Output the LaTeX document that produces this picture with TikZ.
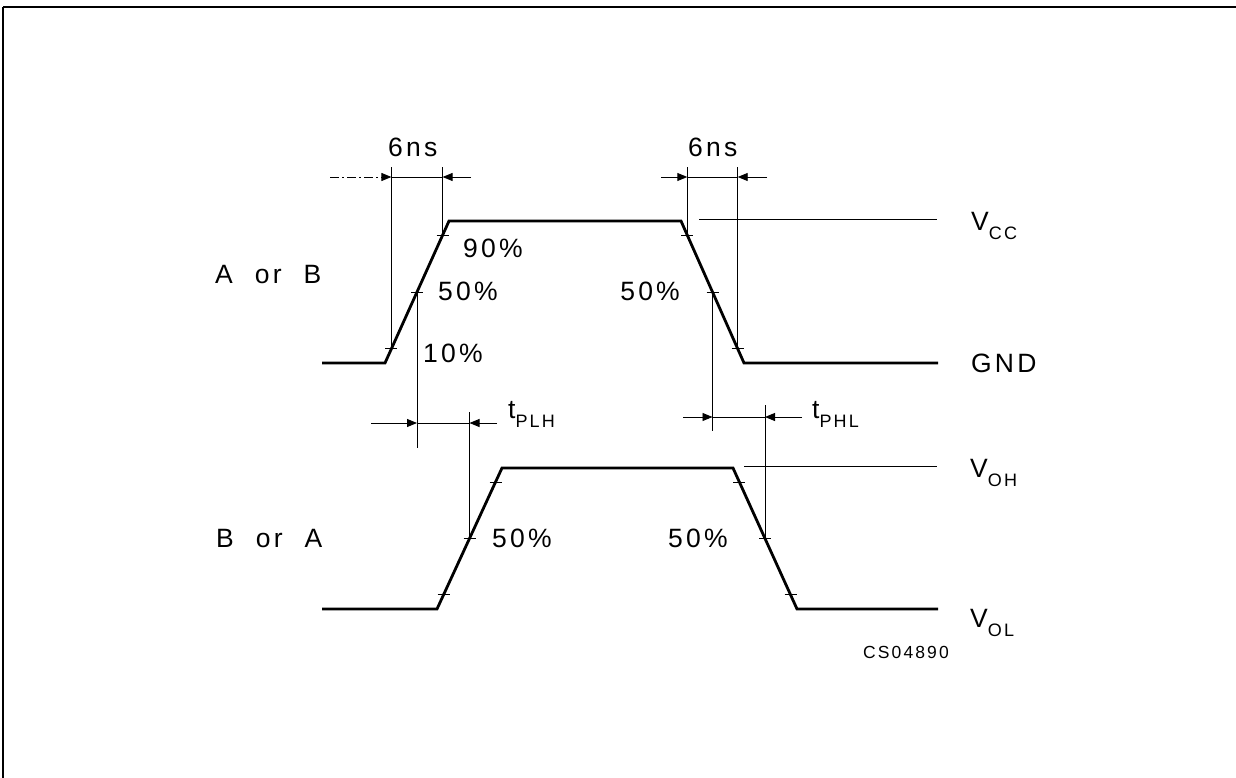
\documentclass[tikz,border=0pt]{standalone}
\usepackage{fontspec}
\setmainfont{Liberation Sans}[LetterSpace=12]
\usetikzlibrary{calc,arrows.meta}
\newcommand{\sbs}[1]{\raisebox{-9pt}{\fontsize{18pt}{18pt}\selectfont #1}}
\tikzset{
  wave/.style={line width=2.8pt, line join=miter},
  thinline/.style={line width=0.9pt},
  dimarrow/.style={line width=0.9pt, -{Triangle[length=10pt,width=8pt]}},
  lbl/.style={anchor=base west, inner sep=0pt, font=\fontsize{26.5pt}{30pt}\selectfont},
  lble/.style={anchor=base east, inner sep=0pt, font=\fontsize{26.5pt}{30pt}\selectfont},
  smalllbl/.style={anchor=base west, inner sep=0pt, font=\fontsize{17.5pt}{20pt}\selectfont},
}
\begin{document}
\begin{tikzpicture}[x=1pt,y=-1pt]
\useasboundingbox (0,0) rectangle (1236,778);
% frame
\coordinate (ftr) at (1236,7.5);
\coordinate (ftl) at (3,7.5);
\coordinate (fbl) at (3,778);
\draw[line width=2pt] (ftr) -- (ftl);
\draw[line width=1.5pt] (ftl) -- (fbl);

% upper waveform
\coordinate (u0) at (322,363);
\coordinate (u1) at (385,363);
\coordinate (u2) at (449,221);
\coordinate (u3) at (681,221);
\coordinate (u4) at (744,363);
\coordinate (u5) at (938,363);
\draw[wave] (u0) -- (u1) -- (u2) -- (u3) -- (u4) -- (u5);
\coordinate (ur10) at ($(u1)!0.1!(u2)$);
\coordinate (ur50) at ($(u1)!0.5!(u2)$);
\coordinate (ur90) at ($(u1)!0.9!(u2)$);
\coordinate (uf90) at ($(u3)!0.1!(u4)$);
\coordinate (uf50) at ($(u3)!0.5!(u4)$);
\coordinate (uf10) at ($(u3)!0.9!(u4)$);

% lower waveform
\coordinate (l0) at (322,609);
\coordinate (l1) at (437,609);
\coordinate (l2) at (502,468);
\coordinate (l3) at (733,468);
\coordinate (l4) at (797,609);
\coordinate (l5) at (938,609);
\draw[wave] (l0) -- (l1) -- (l2) -- (l3) -- (l4) -- (l5);
\coordinate (lr10) at ($(l1)!0.1!(l2)$);
\coordinate (lr50) at ($(l1)!0.5!(l2)$);
\coordinate (lr90) at ($(l1)!0.9!(l2)$);
\coordinate (lf90) at ($(l3)!0.1!(l4)$);
\coordinate (lf50) at ($(l3)!0.5!(l4)$);
\coordinate (lf10) at ($(l3)!0.9!(l4)$);

% ticks
\foreach \p in {ur10,ur50,ur90,uf90,uf50,uf10,lr10,lr50,lr90,lf90,lf50,lf10}
  \draw[thinline] ([xshift=-6pt]\p) -- ([xshift=6pt]\p);

% reference lines
\coordinate (vccs) at (699,219);
\coordinate (vcce) at (937,219);
\draw[thinline] (vccs) -- (vcce);
\coordinate (vohs) at (744,466);
\coordinate (vohe) at (937,466);
\draw[thinline] (vohs) -- (vohe);

% 6ns dimensions
\coordinate (dimtop) at (0,167);
\coordinate (dimy) at (0,177);
\draw[thinline] (ur10) -- (ur10 |- dimtop);
\draw[thinline] (ur90) -- (ur90 |- dimtop);
\draw[thinline] (uf90) -- (uf90 |- dimtop);
\draw[thinline] (uf10) -- (uf10 |- dimtop);
\coordinate (a1s) at (330,177);
\coordinate (a2s) at (471,177);
\coordinate (a3s) at (661,177);
\coordinate (a4s) at (767,177);
\draw[dimarrow, dash pattern=on 9pt off 3pt on 2pt off 3pt] (a1s) -- (ur10 |- dimy);
\draw[thinline] (ur10 |- dimy) -- (ur90 |- dimy);
\draw[dimarrow] (a2s) -- (ur90 |- dimy);
\draw[dimarrow] (a3s) -- (uf90 |- dimy);
\draw[thinline] (uf90 |- dimy) -- (uf10 |- dimy);
\draw[dimarrow] (a4s) -- (uf10 |- dimy);

% tPLH
\coordinate (plhbot) at (0,448);
\coordinate (plhtop) at (0,412);
\coordinate (plhy) at (0,423);
\draw[thinline] (ur50) -- (ur50 |- plhbot);
\draw[thinline] (lr50) -- (lr50 |- plhtop);
\coordinate (p1s) at (371,423);
\coordinate (p2s) at (497,423);
\draw[dimarrow] (p1s) -- (ur50 |- plhy);
\draw[thinline] (ur50 |- plhy) -- (lr50 |- plhy);
\draw[dimarrow] (p2s) -- (lr50 |- plhy);

% tPHL
\coordinate (phlbot) at (0,431);
\coordinate (phltop) at (0,405);
\coordinate (phly) at (0,417);
\draw[thinline] (uf50) -- (uf50 |- phlbot);
\draw[thinline] (lf50) -- (lf50 |- phltop);
\coordinate (h1s) at (683,417);
\coordinate (h2s) at (802,417);
\draw[dimarrow] (h1s) -- (uf50 |- phly);
\draw[thinline] (uf50 |- phly) -- (lf50 |- phly);
\draw[dimarrow] (h2s) -- (lf50 |- phly);

% labels
\node[lbl] (ns1) at (388,157) {6ns};
\node[lbl] (ns2) at (688,157) {6ns};
\node[lbl] (p90) at (463,257) {90\%};
\node[lbl] (p50a) at (438,300) {50\%};
\node[lbl] (p10) at (423,362) {10\%};
\node[lble] (p50b) at (680,300) {50\%};
\node[lbl] (p50c) at (492,547) {50\%};
\node[lbl] (p50d) at (668,547) {50\%};
\node[lbl] (aorb) at (215,283) {A\hspace{22pt}or\hspace{22pt}B};
\node[lbl] (bora) at (216,547) {B\hspace{22pt}or\hspace{22pt}A};
\node[lbl] (tplh) at (508,418) {t\sbs{PLH}};
\node[lbl] (tphl) at (812,418) {t\sbs{PHL}};
\node[lbl] (vcc) at (971,230) {V\sbs{CC}};
\node[lbl] (gnd) at (971,372) {GND};
\node[lbl] (voh) at (970,477) {V\sbs{OH}};
\node[lbl] (vol) at (970,627) {V\sbs{OL}};
\node[smalllbl] (code) at (863,658) {CS04890};
\end{tikzpicture}
\end{document}
